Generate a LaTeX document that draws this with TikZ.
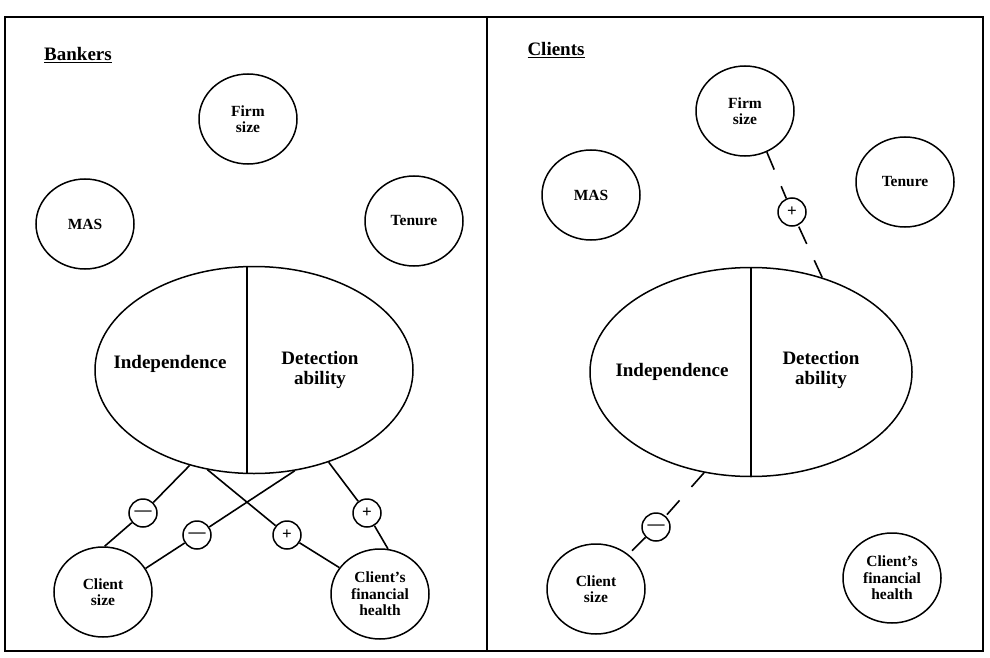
\documentclass[tikz,border=0pt]{standalone}
\usepackage{fontspec}
\setmainfont{Liberation Serif}
\usepackage{tikz}
\usetikzlibrary{shapes.geometric}

\begin{document}
\begin{tikzpicture}[x=1pt, y=-1pt, line width=1.5pt,
        factor/.style={draw, ellipse, minimum width=98pt, minimum height=90pt, inner sep=0pt, align=center, font=\fontsize{15.5}{16.5}\selectfont\bfseries},
        core/.style={draw, ellipse, minimum height=207pt},
        sign/.style={draw, circle, minimum size=28pt, inner sep=0pt, fill=white, font=\fontsize{17}{17}\selectfont\bfseries},
        bigtext/.style={align=center, font=\fontsize{19}{20}\selectfont\bfseries},
        head/.style={font=\fontsize{19}{19}\selectfont\bfseries},
        link/.style={line width=1.6pt},
        dlink/.style={line width=1.6pt, dash pattern=on 19pt off 18pt}]
                \useasboundingbox (0,0) rectangle (990,658);
                \draw[line width=2pt] (5,17) rectangle (983,651);
                \draw[line width=2pt] (487,17) -- (487,651);

                \node[head] (bhead) at (78,55) {\underline{Bankers}};
                \node[factor] (bfirm) at (248,119) {Firm\\size};
                \node[factor] (bmas) at (85,224) {MAS};
                \node[factor] (bten) at (414,221) {Tenure};
                \node[core, minimum width=318pt] (bind) at (254,370) {};
                \draw ([xshift=-7pt]bind.north) -- ([xshift=-7pt]bind.south);
                \node[bigtext] (bindep) at (170,364) {Independence};
                \node[bigtext] (bdet) at (320,370) {Detection\\ability};
                \node[factor] (bcs) at (103,592) {Client\\size};
                \node[factor] (bcfh) at (380,594) {Client’s\\financial\\health};

                \node[sign] (bm1) at (143,513) {---};
                \node[sign] (bm2) at (197,535) {---};
                \node[sign] (bp1) at (287,535) {+};
                \node[sign] (bp2) at (367,513) {+};
                \draw[link] (bind.236) -- (bm1) -- (bcs.88);
                \draw[link] (bind.292) -- (bm2) -- (bcs.29);
                \draw[link] (bind.245) -- (bp1) -- (bcfh.147);
                \draw[link] (bind.309) -- (bp2) -- (bcfh.80);

                \node[head] (chead) at (556,50) {\underline{Clients}};
                \node[factor] (cfirm) at (745,111) {Firm\\size};
                \node[factor] (cmas) at (591,195) {MAS};
                \node[factor] (cten) at (905,182) {Tenure};
                \node[core, minimum width=322pt, minimum height=209pt] (cind) at (751,372) {};
                \draw (cind.north) -- (cind.south);
                \node[bigtext] (cindep) at (672,372) {Independence};
                \node[bigtext] (cdet) at (821,370) {Detection\\ability};
                \node[factor] (ccs) at (596,589) {Client\\size};
                \node[factor] (ccfh) at (892,578) {Client’s\\financial\\health};

                \node[sign] (cp) at (792,212) {+};
                \node[sign] (cm) at (656,527) {---};
                \draw[dlink] (cfirm.298) -- (cp);
                \draw[dlink] (cind.53) -- (cp);
                \draw[dlink] (cind.245) -- (cm);
                \draw[dlink] (cm) -- (ccs.47);
            \end{tikzpicture}
\end{document}
